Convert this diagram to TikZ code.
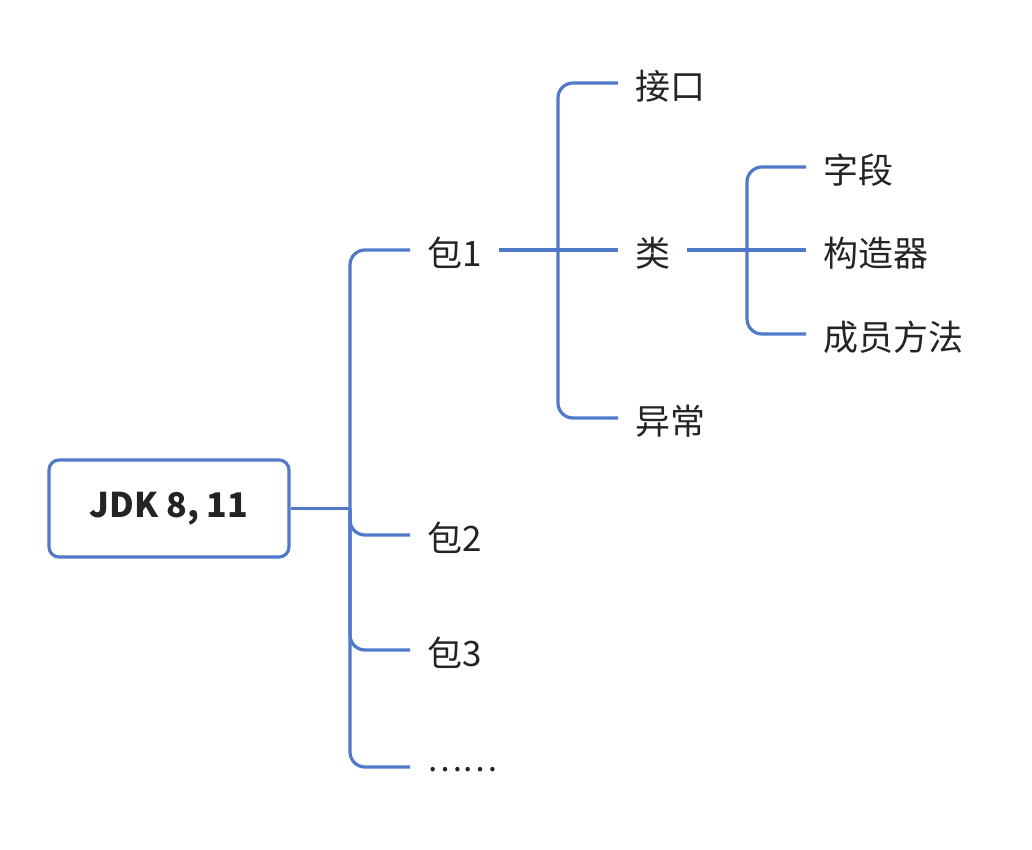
\documentclass[tikz,border=0pt]{standalone}
\usepackage{fontspec}
\setmainfont{Noto Sans CJK SC}
\definecolor{linec}{RGB}{80,122,199}
\definecolor{textc}{RGB}{34,36,40}
\begin{document}
\begin{tikzpicture}[x=1pt,y=-1pt,
  conn/.style={draw=linec,line width=3.2pt},
  elbow/.style={conn,rounded corners=15pt},
  leaf/.style={inner xsep=17pt,inner ysep=0pt,anchor=west,text=textc,text height=37pt,text depth=4pt,font=\fontsize{35}{40}\selectfont},
  rootbox/.style={draw=linec,line width=3.2pt,rounded corners=10pt,minimum width=240pt,minimum height=97pt,text=textc,font=\fontsize{34}{40}\selectfont\bfseries,fill=white}]
\useasboundingbox (0,0) rectangle (1032,850);
% nodes
\node[rootbox] (root) at (169,508.5) {JDK 8, 11};
\node[leaf] (p1) at (410,250) {包1};
\node[leaf] (p2) at (410,535) {包2};
\node[leaf] (p3) at (410,650) {包3};
\node[leaf,text height=8pt,text depth=0pt,font=\fontsize{33}{40}\selectfont] (pd) at (410,767) {……};
\node[leaf] (ifc) at (618,83) {接口};
\node[leaf] (cls) at (618,250) {类};
\node[leaf] (exc) at (618,418) {异常};
\node[leaf] (fld) at (806,167) {字段};
\node[leaf] (ctr) at (806,250) {构造器};
\node[leaf] (mth) at (806,334) {成员方法};
% spines
\coordinate (s0) at (350,0);
\coordinate (s1) at (558,0);
\coordinate (s2) at (747,0);
\draw[conn] (root.east) -- (root.east -| s0);
\draw[elbow] (p1.west) -- (p1.west -| s0) -- (pd.west -| s0) -- (pd.west);
\draw[elbow] (root.east -| s0) -- (p2.west -| s0) -- (p2.west);
\draw[elbow] (root.east -| s0) -- (p3.west -| s0) -- (p3.west);
\draw[conn] (p1.east) -- (cls.west);
\draw[elbow] (ifc.west) -- (ifc.west -| s1) -- (exc.west -| s1) -- (exc.west);
\draw[conn] (cls.east) -- (ctr.west);
\draw[elbow] (fld.west) -- (fld.west -| s2) -- (mth.west -| s2) -- (mth.west);
\end{tikzpicture}
\end{document}
